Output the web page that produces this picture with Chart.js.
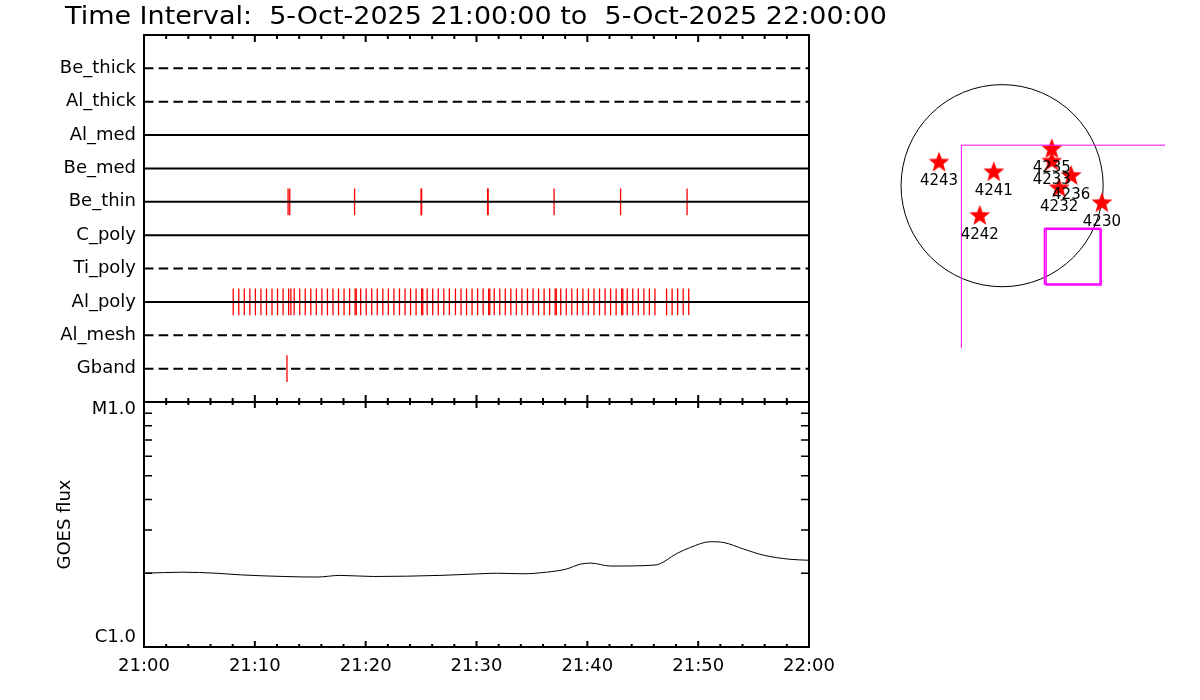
<!DOCTYPE html>
<html>
<head>
<meta charset="utf-8">
<title>Filter hits and GOES flux</title>
<script src="https://cdn.jsdelivr.net/npm/chart.js@4.4.1/dist/chart.umd.min.js"></script>
<style>
  html, body { margin: 0; padding: 0; background: #fff; }
  #wrap { position: relative; width: 1200px; height: 700px; overflow: hidden; background: #fff; }
  canvas { position: absolute; }
</style>
</head>
<body>
<div id="wrap">
  <canvas id="filters" width="900" height="410" style="left:0px;top:0px"></canvas>
  <canvas id="goes" width="790" height="305" style="left:50px;top:395px"></canvas>
  <canvas id="disk" width="300" height="320" style="left:880px;top:60px"></canvas>
</div>
<script>
// ---- data (minutes after 21:00) ----
const titleText = "Time Interval:  5-Oct-2025 21:00:00 to  5-Oct-2025 22:00:00";

const rowNames = ["Be_thick", "Al_thick", "Al_med", "Be_med", "Be_thin", "C_poly", "Ti_poly", "Al_poly", "Al_mesh", "Gband"];
const rowDashed = [true, true, false, false, false, false, true, false, true, true];

const timeLabels = ["21:00", "21:10", "21:20", "21:30", "21:40", "21:50", "22:00"];

const beThinTimes = [13.0, 13.15, 19.0, 25.0, 25.05, 31.0, 31.05, 37.0, 43.0, 49.0];

const alPolyTimes = [
  8.05, 8.55, 9.05, 9.55, 10.05, 10.55, 11.05, 11.55, 12.05, 12.55,
  13.05, 13.25, 13.55, 14.05, 14.55, 15.05, 15.55, 16.05, 16.55, 17.05,
  17.55, 18.05, 18.55, 19.05, 19.15, 19.55, 20.05, 20.55, 21.05, 21.55,
  22.05, 22.55, 23.05, 23.55, 24.05, 24.55, 25.05, 25.15, 25.55, 26.05,
  26.55, 27.05, 27.55, 28.1, 28.6, 29.1, 29.6, 30.1, 30.6, 31.1,
  31.2, 31.6, 32.1, 32.6, 33.1, 33.6, 34.1, 34.6, 35.1, 35.6,
  36.1, 36.6, 37.1, 37.2, 37.6, 38.1, 38.6, 39.1, 39.6, 40.1,
  40.6, 41.1, 41.6, 42.1, 42.6, 43.1, 43.2, 43.6, 44.1, 44.6,
  45.1, 45.6, 46.1, 47.15, 47.65, 48.15, 48.65, 49.15
];

const gbandTimes = [12.9];

const goesTimes = [0, 3.5, 6.5, 8.7, 12.6, 15.6, 17.7, 20.7, 26.7, 30.3, 31.8, 34.2, 36.3,
  38.1, 39.4, 40.3, 42.1, 46.1, 48.1, 49.3, 51.1, 52.3, 54.1, 55.9, 58.3, 60];
const goesFlux = [2.00e-6, 2.02e-6, 2.00e-6, 1.97e-6, 1.94e-6, 1.93e-6, 1.96e-6, 1.94e-6, 1.96e-6,
  1.99e-6, 2.00e-6, 1.99e-6, 2.02e-6, 2.08e-6, 2.18e-6, 2.20e-6, 2.14e-6, 2.16e-6, 2.41e-6,
  2.55e-6, 2.69e-6, 2.67e-6, 2.51e-6, 2.37e-6, 2.28e-6, 2.26e-6];
const goesMinor = [2e-6, 3e-6, 4e-6, 5e-6, 6e-6, 7e-6, 8e-6, 9e-6];
const goesClassLabels = ["C1.0", "M1.0"];

// disk view (arcsec from sun centre)
const sunRadius = 960;
const regionNums = ["4243", "4241", "4242", "4235", "4233", "4236", "4232", "4230"];
const regionX = [-599, -79, -212, 472, 472, 656, 542, 948];
const regionY = [220, 128, -287, 347, 229, 93, -24, -166];
const fovX = [-387, -387, 1549];
const fovY = [-1544, 385, 385];
const boxAX = [402, 931, 931, 402, 402];
const boxAY = [-404, -404, -933, -933, -404];
const boxBX = [418, 941, 941, 418, 418];
const boxBY = [-414, -414, -943, -943, -414];

// ---- common ----
Chart.defaults.font.family = "'DejaVu Sans', sans-serif";
Chart.defaults.color = "#000";
Chart.defaults.animation = false;
Chart.defaults.responsive = false;
Chart.defaults.events = [];
Chart.defaults.layout.autoPadding = false;
Chart.defaults.plugins.legend.display = false;
Chart.defaults.plugins.tooltip.enabled = false;

const majorTicks = [0, 10, 20, 30, 40, 50, 60];
const minorTicks = [];
for (let t = 2; t < 60; t += 2) if (t % 10) minorTicks.push(t);

function pts(xs, ys) {
  return xs.map((x, i) => ({ x, y: ys[i] }));
}

// labels must not push the plot box around
function noEdgePadding(s) {
  s.paddingTop = 0;
  s.paddingBottom = 0;
  s.paddingLeft = 0;
  s.paddingRight = 0;
}

// box + inward time ticks on top and bottom edges
const frame = {
  id: "frame",
  afterDraw(chart, args, opts) {
    const { ctx, chartArea: a } = chart;
    const xs = chart.scales.x;
    ctx.save();
    ctx.strokeStyle = "#000";
    ctx.lineWidth = 2;
    ctx.strokeRect(a.left, a.top, a.right - a.left, a.bottom - a.top);
    ctx.beginPath();
    const tick = (t, len) => {
      const px = xs.getPixelForValue(t);
      ctx.moveTo(px, a.top); ctx.lineTo(px, a.top + len);
      ctx.moveTo(px, a.bottom); ctx.lineTo(px, a.bottom - len);
    };
    majorTicks.forEach(t => tick(t, opts.major));
    minorTicks.forEach(t => tick(t, opts.minor));
    ctx.stroke();
    ctx.restore();
  }
};

// ---- top panel: filter hits ----
const rowSets = rowNames.map((name, i) => ({
  type: "line",
  label: name,
  data: [{ x: 0, y: 10 - i }, { x: 60, y: 10 - i }],
  borderColor: "#000",
  borderWidth: 2,
  borderDash: rowDashed[i] ? [9.5, 5.2] : [],
  pointRadius: 0
}));

function hitSet(times, name) {
  const row = 10 - rowNames.indexOf(name);
  return {
    type: "scatter",
    label: name + " hits",
    data: times.map(t => ({ x: t, y: row })),
    showLine: false,
    pointStyle: "line",
    pointRotation: 90,
    pointRadius: 13.4,
    pointBorderColor: "#ff0000",
    pointBorderWidth: 1.3,
    pointBackgroundColor: "#ff0000"
  };
}

const titlePlugin = {
  id: "bigTitle",
  afterDraw(chart) {
    const ctx = chart.ctx;
    ctx.save();
    ctx.font = "24px 'DejaVu Sans'";
    ctx.fillStyle = "#000";
    ctx.textBaseline = "alphabetic";
    const w = ctx.measureText(titleText).width;
    ctx.translate(65, 24);
    ctx.scale(822 / w, 1);
    ctx.fillText(titleText, 0, 0);
    ctx.restore();
  }
};

new Chart(document.getElementById("filters"), {
  type: "scatter",
  data: {
    datasets: [
      ...rowSets,
      hitSet(beThinTimes, "Be_thin"),
      hitSet(alPolyTimes, "Al_poly"),
      hitSet(gbandTimes, "Gband")
    ]
  },
  options: {
    layout: { padding: { left: 0, top: 35, right: 91, bottom: 8 } },
    scales: {
      x: { type: "linear", min: 0, max: 60, display: false },
      y: {
        type: "linear",
        min: 0,
        max: 11,
        afterBuildTicks: s => { s.ticks = rowNames.map((n, i) => ({ value: 10 - i })); },
        afterFit: s => { s.width = 144; noEdgePadding(s); },
        ticks: {
          callback: v => rowNames[10 - v],
          font: { size: 18 },
          color: "#000",
          padding: 8,
          autoSkip: false
        },
        grid: { display: false, drawTicks: false },
        border: { display: false }
      }
    },
    plugins: { frame: { major: 7, minor: 4 } }
  },
  plugins: [frame, titlePlugin]
});

// ---- bottom panel: GOES flux ----
const goesDecor = {
  id: "goesDecor",
  afterDraw(chart) {
    const { ctx, chartArea: a } = chart;
    const ys = chart.scales.y;
    ctx.save();
    ctx.strokeStyle = "#000";
    ctx.lineWidth = 1.5;
    ctx.beginPath();
    goesMinor.forEach(v => {
      const py = ys.getPixelForValue(v);
      ctx.moveTo(a.left, py); ctx.lineTo(a.left + 8, py);
      ctx.moveTo(a.right, py); ctx.lineTo(a.right - 8, py);
    });
    ctx.stroke();
    ctx.font = "18px 'DejaVu Sans'";
    ctx.fillStyle = "#000";
    ctx.textAlign = "right";
    ctx.textBaseline = "middle";
    ctx.fillText(goesClassLabels[1], a.left - 8, ys.getPixelForValue(1e-5) + 7);
    ctx.fillText(goesClassLabels[0], a.left - 8, ys.getPixelForValue(1e-6) - 10);
    ctx.restore();
  }
};

new Chart(document.getElementById("goes"), {
  type: "line",
  data: {
    datasets: [{
      label: "GOES flux",
      data: pts(goesTimes, goesFlux),
      borderColor: "#000",
      borderWidth: 1,
      pointRadius: 0,
      cubicInterpolationMode: "monotone"
    }]
  },
  options: {
    layout: { padding: { left: 0, top: 7, right: 31, bottom: 13 } },
    scales: {
      x: {
        type: "linear",
        min: 0,
        max: 60,
        afterBuildTicks: s => { s.ticks = majorTicks.map(v => ({ value: v })); },
        afterFit: s => { s.height = 40; noEdgePadding(s); },
        ticks: {
          callback: v => timeLabels[Math.round(v / 10)],
          font: { size: 18 },
          color: "#000",
          padding: 9,
          maxRotation: 0,
          autoSkip: false
        },
        grid: { display: false, drawTicks: false },
        border: { display: false }
      },
      y: {
        type: "logarithmic",
        min: 1e-6,
        max: 1e-5,
        afterFit: s => { s.width = 94; noEdgePadding(s); },
        ticks: { display: false },
        grid: { display: false, drawTicks: false },
        border: { display: false },
        title: {
          display: true,
          text: "GOES flux",
          color: "#000",
          font: { size: 18 },
          padding: { top: 5, bottom: 0 }
        }
      }
    },
    plugins: { frame: { major: 6, minor: 3 } }
  },
  plugins: [frame, goesDecor]
});

// ---- right: active regions on the disk ----
function makeStar(r) {
  const c = document.createElement("canvas");
  c.width = c.height = 2 * r + 2;
  const g = c.getContext("2d");
  g.fillStyle = "#ff0000";
  g.beginPath();
  for (let k = 0; k < 10; k++) {
    const rr = k % 2 ? r * 0.42 : r;
    const ang = -Math.PI / 2 + k * Math.PI / 5;
    g.lineTo(c.width / 2 + rr * Math.cos(ang), c.height / 2 + rr * Math.sin(ang));
  }
  g.closePath();
  g.fill();
  return c;
}

const diskDecor = {
  id: "diskDecor",
  beforeDatasetsDraw(chart) {
    const { ctx } = chart;
    const xs = chart.scales.x, ys = chart.scales.y;
    const cx = xs.getPixelForValue(0), cy = ys.getPixelForValue(0);
    const r = xs.getPixelForValue(sunRadius) - cx;
    ctx.save();
    ctx.strokeStyle = "#000";
    ctx.lineWidth = 1;
    ctx.beginPath();
    ctx.arc(cx, cy, r, 0, Math.PI * 2);
    ctx.stroke();
    ctx.restore();
  },
  afterDatasetsDraw(chart) {
    const { ctx } = chart;
    const meta = chart.getDatasetMeta(3);
    ctx.save();
    ctx.font = "15px 'DejaVu Sans'";
    ctx.fillStyle = "#000";
    ctx.textAlign = "center";
    ctx.textBaseline = "middle";
    meta.data.forEach((el, i) => ctx.fillText(regionNums[i], el.x, el.y + 19));
    ctx.restore();
  }
};

const magentaLine = (data, w) => ({
  type: "line",
  data,
  showLine: true,
  borderColor: "#ff00ff",
  borderWidth: w,
  pointRadius: 0,
  tension: 0
});

new Chart(document.getElementById("disk"), {
  type: "scatter",
  data: {
    datasets: [
      magentaLine(pts(fovX, fovY), 1),
      magentaLine(pts(boxAX, boxAY), 1.5),
      magentaLine(pts(boxBX, boxBY), 1.5),
      {
        label: "regions",
        data: pts(regionX, regionY),
        pointStyle: makeStar(11),
        pointRadius: 11
      }
    ]
  },
  options: {
    layout: { padding: 0 },
    scales: {
      x: { type: "linear", min: -1160, max: 1690, display: false },
      y: { type: "linear", min: -1846, max: 1194, display: false }
    }
  },
  plugins: [diskDecor]
});
</script>
</body>
</html>
